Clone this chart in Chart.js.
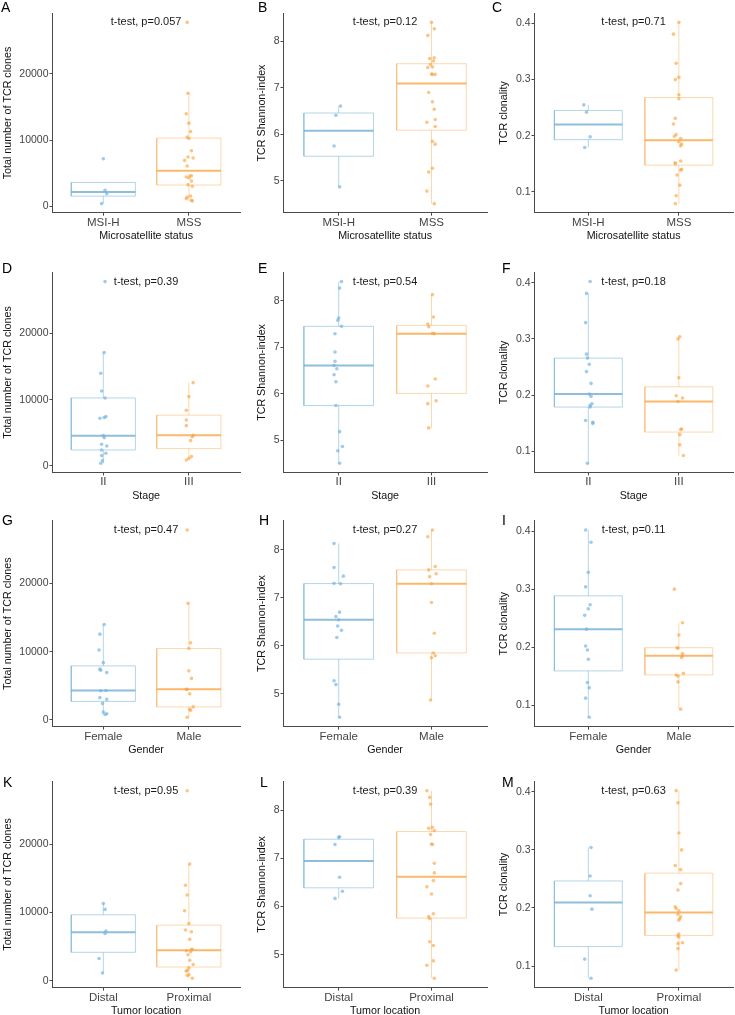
<!DOCTYPE html>
<html><head><meta charset="utf-8">
<script src="https://cdn.jsdelivr.net/npm/chart.js@4"></script>
<style>
html,body{margin:0;padding:0;background:#fff;overflow:hidden}
#wrap{position:relative;width:735px;height:1015px;overflow:hidden}
#wrap canvas{position:absolute}
.lab{position:absolute;font-family:'Liberation Sans',Arial,sans-serif;font-size:14px;line-height:14px;color:#000}
</style></head><body><div id="wrap"></div>
<script>
// ---------- categories & tick labels ----------
const msCats = ['MSI-H', 'MSS'];
const stageCats = ['II', 'III'];
const genderCats = ['Female', 'Male'];
const locCats = ['Distal', 'Proximal'];
const cloneTicks = [0, 10000, 20000];
const cloneTickLabels = ['0', '10000', '20000'];
const shannonTicks = [5, 6, 7, 8];
const shannonTickLabels = ['5', '6', '7', '8'];
const clonalityTicks = [0.1, 0.2, 0.3, 0.4];
const clonalityTickLabels = ['0.1', '0.2', '0.3', '0.4'];
const cloneRange = [-970, 29160];
const shannonRange = [4.315, 8.605];
const clonalityRange = [0.0629, 0.4181];
const pLabels = ['t-test, p=0.057','t-test, p=0.12','t-test, p=0.71','t-test, p=0.39','t-test, p=0.54','t-test, p=0.18','t-test, p=0.47','t-test, p=0.27','t-test, p=0.11','t-test, p=0.95','t-test, p=0.39','t-test, p=0.63'];

// ---------- values (points), jitter offsets, box stats [lowWhisker,q1,median,q3,highWhisker] ----------
// A: clones by microsatellite status
const A_MSIH = [7190, 2410, 1910, 400];
const A_MSIH_jit = [0.00, 0.02, 0.04, -0.02];
const A_MSIH_box = [400, 1530, 2160, 3600, 3600];
const A_MSS = [27790, 17090, 13970, 12560, 11310, 10450, 10250, 8390, 7440, 7290, 6930, 6080, 4620, 4570, 4420, 4270, 3820, 3270, 3020, 1560, 1410, 1160, 900, 800];
const A_MSS_jit = [-0.02, -0.01, -0.03, 0.00, 0.02, -0.02, 0.00, 0.03, -0.01, 0.05, -0.05, -0.02, 0.03, 0.01, -0.03, 0.00, 0.03, -0.01, 0.04, 0.02, -0.02, -0.03, 0.03, 0.04];
const A_MSS_box = [800, 3210, 5350, 10300, 17090];
// B: Shannon by microsatellite status
const B_MSIH = [6.61, 6.41, 5.75, 4.87];
const B_MSIH_jit = [0.02, -0.03, -0.05, 0.01];
const B_MSIH_box = [4.87, 5.53, 6.08, 6.46, 6.61];
const B_MSS = [8.41, 8.27, 8.13, 7.65, 7.63, 7.58, 7.5, 7.45, 7.44, 7.3, 7.29, 7.29, 6.9, 6.7, 6.54, 6.32, 6.26, 6.17, 5.85, 5.79, 5.27, 5.19, 4.78, 4.51];
const B_MSS_jit = [0.0, 0.03, -0.04, 0.03, -0.02, 0.02, -0.01, 0.01, -0.04, 0.0, 0.01, 0.04, -0.03, 0.01, 0.03, 0.04, -0.05, 0.04, 0.01, 0.04, 0.01, -0.03, -0.05, 0.03];
const B_MSS_box = [4.51, 6.09, 7.095, 7.52, 8.41];
// C: clonality by microsatellite status
const C_MSIH = [0.255, 0.242, 0.198, 0.179];
const C_MSIH_jit = [-0.05, -0.02, 0.02, -0.04];
const C_MSIH_box = [0.179, 0.193, 0.22, 0.245, 0.255];
const C_MSS = [0.402, 0.381, 0.329, 0.304, 0.300, 0.273, 0.266, 0.231, 0.221, 0.202, 0.199, 0.195, 0.189, 0.185, 0.182, 0.155, 0.152, 0.150, 0.140, 0.139, 0.130, 0.112, 0.093, 0.079];
const C_MSS_jit = [0.0, -0.06, -0.03, 0.0, -0.04, 0.0, 0.0, -0.04, -0.06, -0.03, -0.05, 0.02, 0.0, 0.03, 0.02, 0.02, -0.04, -0.04, 0.03, 0.02, -0.02, 0.01, -0.03, -0.04];
const C_MSS_box = [0.079, 0.1475, 0.192, 0.268, 0.402];
// D: clones by stage
const D_II = [27790, 17090, 13970, 11310, 10250, 7440, 7290, 7190, 4570, 4270, 3270, 3020, 2410, 1910, 1560, 800, 400];
const D_II_jit = [0.02, 0.01, -0.03, -0.02, 0.02, 0.03, 0.01, -0.04, 0.0, 0.01, -0.02, 0.04, -0.02, 0.03, -0.02, -0.01, -0.03];
const D_II_box = [400, 2410, 4570, 10250, 17090];
const D_III = [12560, 10450, 8390, 6930, 6080, 4620, 4420, 3820, 1410, 1160, 900];
const D_III_jit = [0.05, 0.0, -0.03, -0.03, -0.03, 0.05, 0.04, 0.02, 0.03, 0.0, -0.03];
const D_III_box = [900, 2615, 4620, 7660, 12560];
// E: Shannon by stage
const E_II = [8.41, 8.27, 7.63, 7.58, 7.45, 7.29, 6.9, 6.7, 6.61, 6.54, 6.41, 6.26, 5.75, 5.19, 4.87, 4.78, 4.51];
const E_II_jit = [0.03, 0.01, 0.0, -0.01, 0.03, -0.04, -0.04, -0.04, -0.05, -0.02, -0.05, -0.03, -0.03, 0.01, 0.04, -0.01, 0.01];
const E_II_box = [4.51, 5.75, 6.61, 7.45, 8.41];
const E_III = [8.13, 7.65, 7.5, 7.44, 7.3, 7.29, 6.32, 6.17, 5.85, 5.79, 5.27];
const E_III_jit = [0.01, 0.02, -0.04, -0.03, 0.01, 0.03, 0.04, -0.04, 0.05, -0.04, -0.03];
const E_III_box = [5.27, 6.01, 7.29, 7.47, 8.13];
// F: clonality by stage
const F_II = [0.402, 0.381, 0.329, 0.273, 0.266, 0.255, 0.242, 0.221, 0.202, 0.198, 0.185, 0.182, 0.179, 0.155, 0.152, 0.150, 0.079];
const F_II_jit = [0.02, -0.02, -0.03, -0.02, -0.01, 0.01, -0.02, 0.03, 0.01, 0.03, 0.04, 0.02, 0.02, -0.03, 0.05, 0.05, -0.01];
const F_II_box = [0.079, 0.179, 0.202, 0.266, 0.381];
const F_III = [0.304, 0.300, 0.231, 0.199, 0.195, 0.189, 0.140, 0.139, 0.130, 0.112, 0.093];
const F_III_jit = [0.01, -0.01, 0.0, -0.03, 0.04, -0.01, 0.03, 0.02, 0.01, 0.01, 0.05];
const F_III_box = [0.093, 0.1345, 0.189, 0.215, 0.304];
// G: clones by gender
const G_F = [13970, 12560, 10250, 8390, 7440, 7290, 6930, 4310, 4270, 3270, 3020, 2410, 1160, 900, 800];
const G_F_jit = [0.01, -0.04, -0.05, 0.0, -0.04, -0.03, 0.04, 0.03, -0.03, -0.04, 0.04, -0.01, 0.0, 0.04, 0.02];
const G_F_box = [800, 2715, 4310, 7915, 13970];
const G_M = [27790, 17090, 11310, 10450, 7190, 6080, 4500, 4480, 3820, 1910, 1560, 1410, 400];
const G_M_jit = [-0.02, -0.01, 0.02, 0.0, 0.0, 0.03, -0.02, -0.03, 0.01, 0.05, 0.01, 0.02, -0.02];
const G_M_box = [400, 1910, 4500, 10450, 17090];
// H: Shannon by gender
const H_F = [8.13, 7.63, 7.45, 7.3, 7.29, 6.7, 6.61, 6.54, 6.41, 6.32, 6.17, 5.27, 5.19, 4.78, 4.51];
const H_F_jit = [-0.05, -0.05, 0.05, -0.05, 0.02, 0.01, -0.03, 0.0, -0.01, 0.03, -0.02, -0.05, -0.03, 0.0, 0.01];
const H_F_box = [4.51, 5.72, 6.54, 7.295, 8.13];
const H_M = [8.41, 8.27, 7.65, 7.58, 7.5, 7.44, 7.29, 6.9, 6.26, 5.85, 5.79, 5.75, 4.87];
const H_M_jit = [0.01, -0.04, 0.04, -0.03, 0.05, -0.02, 0.0, 0.0, 0.03, 0.02, 0.04, 0.0, -0.01];
const H_M_box = [4.87, 5.85, 7.29, 7.58, 8.41];
// I: clonality by gender
const I_F = [0.402, 0.381, 0.329, 0.304, 0.273, 0.266, 0.255, 0.231, 0.202, 0.195, 0.179, 0.139, 0.130, 0.112, 0.079];
const I_F_jit = [-0.03, 0.03, 0.0, -0.03, 0.02, 0.0, -0.04, -0.02, -0.03, -0.01, 0.0, -0.01, 0.01, -0.03, 0.01];
const I_F_box = [0.079, 0.159, 0.231, 0.2885, 0.402];
const I_M = [0.300, 0.242, 0.221, 0.199, 0.198, 0.189, 0.185, 0.182, 0.155, 0.152, 0.150, 0.140, 0.093];
const I_M_jit = [-0.05, 0.04, 0.0, -0.02, -0.01, 0.04, 0.04, 0.03, 0.05, -0.03, -0.01, -0.01, 0.02];
const I_M_box = [0.093, 0.152, 0.185, 0.199, 0.242];
// K: clones by tumor location
const K_D = [11310, 10450, 7290, 6930, 3270, 1160];
const K_D_jit = [0.0, 0.02, 0.03, 0.02, -0.05, -0.01];
const K_D_box = [1160, 4185, 7110, 9660, 11310];
const K_P = [27790, 17090, 13970, 12560, 10250, 8390, 7440, 7190, 6080, 4620, 4570, 4420, 4270, 3820, 3020, 2410, 1910, 1560, 1410, 900, 800, 400];
const K_P_jit = [-0.02, 0.01, -0.04, -0.02, -0.05, 0.0, -0.04, 0.03, 0.01, 0.04, 0.03, -0.03, 0.02, -0.01, 0.01, 0.05, 0.0, -0.02, -0.03, 0.0, -0.02, 0.04];
const K_P_box = [400, 2035, 4495, 8150, 17090];
// L: Shannon by tumor location
const L_D = [7.45, 7.44, 7.29, 6.61, 6.32, 6.17];
const L_D_jit = [0.01, 0.0, -0.04, 0.01, 0.04, -0.04];
const L_D_box = [6.17, 6.39, 6.95, 7.40, 7.45];
const L_P = [8.41, 8.27, 8.13, 7.65, 7.63, 7.58, 7.5, 7.3, 7.29, 6.9, 6.7, 6.54, 6.41, 6.26, 5.85, 5.79, 5.75, 5.27, 5.19, 4.87, 4.78, 4.51];
const L_P_jit = [-0.05, -0.02, -0.01, 0.01, -0.03, 0.03, -0.01, 0.0, 0.01, 0.03, 0.03, 0.02, -0.05, 0.0, 0.02, -0.03, -0.02, -0.02, 0.02, 0.02, -0.05, 0.03];
const L_P_box = [4.51, 5.76, 6.62, 7.56, 8.41];
// M: clonality by tumor location
const M_D = [0.304, 0.255, 0.221, 0.198, 0.112, 0.079];
const M_D_jit = [0.03, 0.02, 0.02, 0.04, -0.04, 0.03];
const M_D_box = [0.079, 0.1335, 0.2095, 0.2465, 0.304];
const M_P = [0.402, 0.381, 0.329, 0.300, 0.273, 0.266, 0.242, 0.231, 0.202, 0.199, 0.195, 0.189, 0.185, 0.182, 0.179, 0.155, 0.152, 0.150, 0.140, 0.139, 0.130, 0.093];
const M_P_jit = [-0.03, -0.01, 0.0, 0.03, -0.04, 0.02, 0.02, -0.01, -0.04, -0.03, 0.0, -0.01, 0.02, 0.01, 0.0, 0.0, -0.01, 0.0, 0.04, -0.01, -0.01, -0.03];
const M_P_box = [0.093, 0.1528, 0.192, 0.26, 0.402];

// ---------- layout & style ----------
Chart.defaults.font.family = "'Liberation Sans', Arial, sans-serif";
const FONT = "'Liberation Sans', Arial, sans-serif";
const colCanvasLeft = [0, 245, 490];
const colPlotLeft = [52, 283, 534];
const colPlotRight = [242, 489, 735];
const colYTitlePad = [1.7, 10.7, 7.2];
const rowPlotTop = [13.3, 272.5, 520.7, 781.3];
const rowPlotBottom = [212.7, 472.4, 726.6, 987.6];
const letterLeft = [[1, 258, 492], [2, 258, 502], [2, 259, 502], [3, 260, 502]];
const letterTop = [0, 261, 513, 775];
const XAXIS_H = 29;
const AXIS_COLOR = '#4a4a4a';
const STY = [
  {box: 'rgba(125,182,216,0.58)', med: 'rgba(112,172,212,0.78)', pt: 'rgba(115,178,222,0.68)'},
  {box: 'rgba(252,178,95,0.5)', med: 'rgba(250,168,75,0.82)', pt: 'rgba(250,162,65,0.64)'}
];
const BOXW = 0.75;

const measures = {
  clone: {range: cloneRange, ticks: cloneTicks, labels: cloneTickLabels, title: 'Total number of TCR clones'},
  shannon: {range: shannonRange, ticks: shannonTicks, labels: shannonTickLabels, title: 'TCR Shannon-index'},
  clonality: {range: clonalityRange, ticks: clonalityTicks, labels: clonalityTickLabels, title: 'TCR clonality'}
};

const panels = [
  {L: 'A', row: 0, col: 0, m: 'clone', cats: msCats, xt: 'Microsatellite status', g: [[A_MSIH, A_MSIH_jit, A_MSIH_box], [A_MSS, A_MSS_jit, A_MSS_box]]},
  {L: 'B', row: 0, col: 1, m: 'shannon', cats: msCats, xt: 'Microsatellite status', g: [[B_MSIH, B_MSIH_jit, B_MSIH_box], [B_MSS, B_MSS_jit, B_MSS_box]]},
  {L: 'C', row: 0, col: 2, m: 'clonality', cats: msCats, xt: 'Microsatellite status', g: [[C_MSIH, C_MSIH_jit, C_MSIH_box], [C_MSS, C_MSS_jit, C_MSS_box]]},
  {L: 'D', row: 1, col: 0, m: 'clone', cats: stageCats, xt: 'Stage', g: [[D_II, D_II_jit, D_II_box], [D_III, D_III_jit, D_III_box]]},
  {L: 'E', row: 1, col: 1, m: 'shannon', cats: stageCats, xt: 'Stage', g: [[E_II, E_II_jit, E_II_box], [E_III, E_III_jit, E_III_box]]},
  {L: 'F', row: 1, col: 2, m: 'clonality', cats: stageCats, xt: 'Stage', g: [[F_II, F_II_jit, F_II_box], [F_III, F_III_jit, F_III_box]]},
  {L: 'G', row: 2, col: 0, m: 'clone', cats: genderCats, xt: 'Gender', g: [[G_F, G_F_jit, G_F_box], [G_M, G_M_jit, G_M_box]]},
  {L: 'H', row: 2, col: 1, m: 'shannon', cats: genderCats, xt: 'Gender', g: [[H_F, H_F_jit, H_F_box], [H_M, H_M_jit, H_M_box]]},
  {L: 'I', row: 2, col: 2, m: 'clonality', cats: genderCats, xt: 'Gender', g: [[I_F, I_F_jit, I_F_box], [I_M, I_M_jit, I_M_box]]},
  {L: 'K', row: 3, col: 0, m: 'clone', cats: locCats, xt: 'Tumor location', g: [[K_D, K_D_jit, K_D_box], [K_P, K_P_jit, K_P_box]]},
  {L: 'L', row: 3, col: 1, m: 'shannon', cats: locCats, xt: 'Tumor location', g: [[L_D, L_D_jit, L_D_box], [L_P, L_P_jit, L_P_box]]},
  {L: 'M', row: 3, col: 2, m: 'clonality', cats: locCats, xt: 'Tumor location', g: [[M_D, M_D_jit, M_D_box], [M_P, M_P_jit, M_P_box]]}
];

const annotPlugin = {
  id: 'annot',
  afterDatasetsDraw(chart, args, opts) {
    const {ctx, scales: {x, y}} = chart;
    ctx.save();
    ctx.font = '11px ' + FONT;
    ctx.fillStyle = '#1a1a1a';
    ctx.textAlign = 'center';
    ctx.textBaseline = 'middle';
    ctx.fillText(opts.text, x.getPixelForValue(1.5), y.getPixelForValue(opts.y));
    ctx.restore();
  }
};

const wrap = document.getElementById('wrap');

panels.forEach((p, pi) => {
  const M = measures[p.m];
  const cl = colCanvasLeft[p.col], pl = colPlotLeft[p.col], pr = colPlotRight[p.col];
  const pt = rowPlotTop[p.row], pb = rowPlotBottom[p.row];
  const top = Math.floor(pt) - 10;
  const W = pr - cl;
  const H = Math.ceil(pb + XAXIS_H) - top;
  const xH = top + H - pb;
  const yW = pl - cl;
  const cv = document.createElement('canvas');
  cv.width = W; cv.height = H;
  cv.style.left = cl + 'px'; cv.style.top = top + 'px';
  cv.style.width = W + 'px'; cv.style.height = H + 'px';
  wrap.appendChild(cv);

  const lab = document.createElement('div');
  lab.className = 'lab';
  lab.textContent = p.L;
  lab.style.left = letterLeft[p.row][p.col] + 'px';
  lab.style.top = letterTop[p.row] + 'px';
  wrap.appendChild(lab);

  const datasets = [];
  let ymax = -Infinity;
  p.g.forEach(([vals, jit, box], gi) => {
    const c = gi + 1, s = STY[gi], hw = BOXW / 2;
    vals.forEach(v => { if (v > ymax) ymax = v; });
    datasets.push({type: 'scatter', data: vals.map((v, i) => ({x: c + jit[i], y: v})),
      pointRadius: 1.8, pointHoverRadius: 1.8, backgroundColor: s.pt, borderWidth: 0, order: 0});
    datasets.push({type: 'scatter', showLine: true, data: [{x: c - hw, y: box[2]}, {x: c + hw, y: box[2]}],
      borderColor: s.med, borderWidth: 2, pointRadius: 0, order: 1});
    datasets.push({type: 'scatter', showLine: true, data: [
      {x: c - hw, y: box[1]}, {x: c + hw, y: box[1]}, {x: c + hw, y: box[3]}, {x: c - hw, y: box[3]}, {x: c - hw, y: box[1]}],
      borderColor: s.box, borderWidth: 1, pointRadius: 0, borderJoinStyle: 'miter', order: 2});
    datasets.push({type: 'scatter', showLine: true, data: [{x: c, y: box[0]}, {x: c, y: box[1]}],
      borderColor: s.box, borderWidth: 1, pointRadius: 0, order: 2});
    datasets.push({type: 'scatter', showLine: true, data: [{x: c, y: box[3]}, {x: c, y: box[4]}],
      borderColor: s.box, borderWidth: 1, pointRadius: 0, order: 2});
  });

  new Chart(cv, {
    type: 'scatter',
    data: {datasets},
    plugins: [annotPlugin],
    options: {
      responsive: false, animation: false, devicePixelRatio: 1,
      layout: {padding: {top: pt - top, left: 0, right: 0, bottom: 0}},
      plugins: {legend: {display: false}, tooltip: {enabled: false}, annot: {text: pLabels[pi], y: ymax}},
      scales: {
        x: {
          type: 'linear', min: 0.4, max: 2.6, bounds: 'data',
          afterBuildTicks: s => { s.ticks = [{value: 1}, {value: 2}]; },
          afterFit: s => { s.height = xH; },
          ticks: {callback: (v, i) => p.cats[i], font: {size: 11.5}, color: '#444444', padding: 0, maxRotation: 0, autoSkip: false},
          grid: {display: true, drawOnChartArea: false, drawTicks: true, tickLength: 3, color: AXIS_COLOR, lineWidth: 1},
          border: {display: true, color: AXIS_COLOR, width: 1},
          title: {display: true, text: p.xt, font: {size: 10.7}, color: '#111111', padding: {top: 0, bottom: 0}}
        },
        y: {
          type: 'linear', min: M.range[0], max: M.range[1], bounds: 'data',
          afterBuildTicks: s => { s.ticks = M.ticks.map(v => ({value: v})); },
          afterFit: s => { s.width = yW; },
          ticks: {callback: (v, i) => M.labels[i], font: {size: 10.5}, color: '#444444', padding: 1},
          grid: {display: true, drawOnChartArea: false, drawTicks: true, tickLength: 2.5, color: AXIS_COLOR, lineWidth: 1},
          border: {display: true, color: AXIS_COLOR, width: 1},
          title: {display: true, text: M.title, font: {size: 10.7}, color: '#111111', padding: {top: colYTitlePad[p.col], bottom: 0}}
        }
      }
    }
  });
});
</script>
</body></html>
